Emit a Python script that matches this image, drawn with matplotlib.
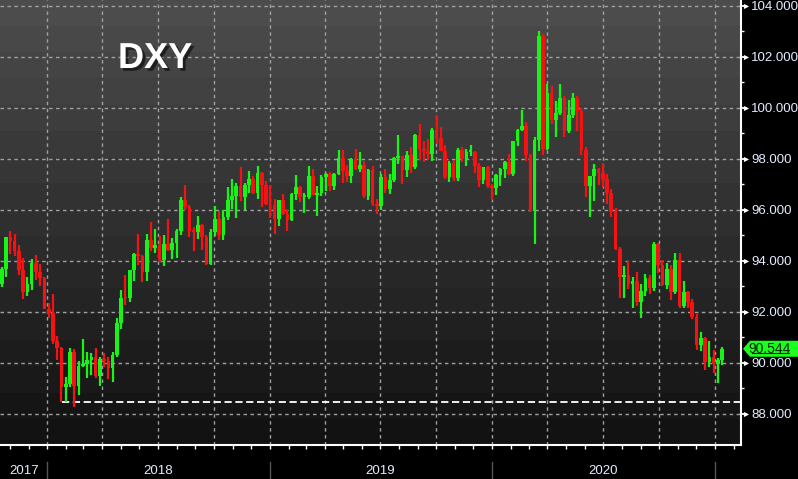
import numpy as np
import pandas as pd
import matplotlib
matplotlib.use("Agg")
import matplotlib.pyplot as plt
import matplotlib.dates as mdates
import matplotlib.transforms as mtransforms
import matplotlib.patheffects as pe
from matplotlib.patches import Polygon

# weekly DXY candles, week ending Friday, 20 Oct 2017 .. 15 Jan 2021
first_open = 93.07

closes = [
    93.69, 94.91, 94.78, 94.39, 93.65, 92.78, 93.08, 93.90, 93.55, 93.30, 92.12,  # 2017
    91.95, 90.85, 90.59, 89.06, 89.17, 90.41, 89.07, 89.86, 89.94, 90.11, 90.24, 89.47, 90.15,  # 2018
    90.06, 89.77, 90.31, 91.55, 92.55, 92.54, 93.63, 94.25, 94.17, 93.56, 94.79, 94.51, 94.60,
    94.03, 94.66, 94.43, 94.68, 95.15, 96.36, 96.11, 95.15, 95.14, 95.38, 94.93, 93.85, 95.13,
    95.62, 95.01, 95.71, 96.36, 96.53, 96.91, 96.48, 96.95, 97.22, 96.65, 97.45, 96.96, 96.21,
    96.18, 95.64, 96.36, 95.82, 95.58, 96.62, 96.90, 96.51, 96.51, 97.31, 96.59, 96.65, 97.28,  # 2019
    97.39, 96.93, 97.40, 98.01, 97.50, 97.33, 97.99, 97.61, 97.75, 96.54, 97.57, 96.23, 96.13,
    97.28, 96.81, 97.17, 98.02, 98.09, 97.54, 98.14, 97.66, 98.92, 98.39, 98.30, 98.20, 99.13,
    98.80, 98.30, 97.28, 97.83, 97.24, 98.35, 98.00, 98.27, 98.27, 97.70, 97.18, 97.66, 96.92,
    96.84, 97.36, 97.61, 97.86, 97.39, 98.68, 99.13, 99.26, 98.13, 95.95, 98.74, 102.82, 98.37,  # 2020
    100.59, 99.51, 99.77, 100.38, 99.08, 99.73, 100.38, 99.88, 98.34, 96.93, 97.31, 97.61, 97.43,
    97.19, 96.65, 95.90, 94.44, 93.35, 93.43, 93.09, 93.20, 92.37, 92.80, 93.33, 92.93, 94.64,
    93.84, 93.05, 93.68, 92.77, 94.04, 92.23, 92.76, 92.39, 91.79, 90.70, 90.98, 90.02, 90.24,
    89.94, 90.10, 90.544,  # 2021
]

highs = [
    93.76, 94.94, 95.15, 95.06, 94.63, 94.10, 93.37, 94.08, 94.22, 93.88, 93.35,
    92.35, 92.68, 91.06, 90.62, 89.43, 90.57, 90.55, 90.08, 90.93, 90.40, 90.36, 90.59, 90.23,
    90.38, 90.24, 90.43, 91.76, 92.83, 93.42, 93.63, 94.30, 95.03, 94.21, 95.04, 95.53, 95.24,
    94.95, 94.99, 95.65, 94.90, 95.23, 96.48, 96.98, 96.20, 95.33, 95.74, 95.43, 94.99, 95.23,
    96.15, 95.93, 95.98, 96.87, 97.20, 97.06, 97.69, 97.03, 97.53, 97.30, 97.71, 97.46, 97.11,
    96.96, 96.40, 96.39, 96.61, 95.98, 96.65, 97.37, 96.94, 96.64, 97.71, 97.59, 96.93, 97.35,
    97.45, 97.49, 97.45, 98.32, 98.33, 97.76, 98.02, 98.37, 98.27, 97.90, 97.60, 97.71, 96.40,
    97.39, 97.59, 97.39, 98.05, 98.93, 98.10, 98.30, 98.45, 98.95, 99.37, 98.70, 98.75, 99.22,
    99.67, 99.23, 98.53, 97.92, 97.95, 98.41, 98.45, 98.37, 98.54, 98.30, 97.83, 97.69, 97.70,
    97.01, 97.41, 97.62, 97.91, 98.19, 98.70, 99.15, 99.91, 99.45, 98.20, 98.85, 102.99, 102.87,
    100.93, 100.86, 100.25, 100.93, 100.47, 100.29, 100.56, 100.46, 99.97, 98.47, 97.33, 97.80, 97.65,
    97.81, 97.40, 96.81, 96.07, 94.55, 93.80, 93.99, 93.36, 93.54, 93.09, 93.47, 93.42, 94.74,
    94.70, 94.03, 93.90, 93.84, 94.30, 94.30, 93.21, 92.80, 92.48, 91.92, 91.20, 91.02, 90.86,
    90.48, 90.18, 90.60,
]

lows = [
    92.98, 93.37, 94.26, 94.18, 93.44, 92.50, 92.63, 92.86, 93.23, 92.99, 92.10,
    91.75, 90.75, 90.11, 88.44, 88.44, 89.05, 88.25, 88.75, 89.83, 89.39, 89.50, 89.38, 89.09,
    89.81, 89.37, 89.23, 90.23, 91.33, 92.25, 92.36, 93.19, 93.84, 93.17, 93.20, 94.36, 94.30,
    93.93, 93.79, 94.38, 94.08, 94.12, 94.99, 95.99, 94.93, 94.38, 94.86, 94.41, 93.81, 93.81,
    94.98, 94.80, 94.79, 95.61, 96.01, 95.68, 96.35, 95.98, 96.65, 96.60, 96.42, 96.09, 96.19,
    95.67, 95.03, 95.36, 95.77, 95.16, 95.55, 96.36, 96.29, 95.87, 96.41, 96.56, 95.74, 96.54,
    96.74, 96.74, 96.75, 97.34, 97.03, 97.07, 97.04, 97.55, 97.49, 96.46, 96.36, 96.16, 95.84,
    95.98, 96.66, 96.60, 97.08, 97.78, 96.99, 97.29, 97.44, 97.60, 97.94, 97.88, 97.96, 97.90,
    98.57, 98.28, 97.22, 97.07, 97.11, 97.11, 97.88, 97.71, 98.12, 97.43, 96.87, 97.02, 96.86,
    96.36, 96.58, 96.94, 97.24, 97.35, 97.33, 98.51, 99.10, 97.91, 95.90, 94.65, 98.30, 98.14,
    98.33, 99.37, 98.84, 99.70, 98.86, 98.99, 99.61, 99.09, 98.15, 96.51, 95.72, 96.34, 96.96,
    96.89, 96.21, 95.72, 94.40, 92.55, 92.52, 92.88, 92.13, 92.24, 91.75, 92.60, 92.71, 92.82,
    93.50, 92.99, 92.88, 92.47, 92.70, 92.13, 92.13, 92.13, 91.71, 90.50, 90.47, 89.72, 89.83,
    89.58, 89.21, 89.90,
]

opens = [first_open] + closes[:-1]

years = ["2017", "2018", "2019", "2020"]
year_label_dates = ["2017-11-23", "2018-07-02", "2019-07-02", "2020-07-02"]
yticks = [88, 90, 92, 94, 96, 98, 100, 102, 104]
support_level = 88.44
last_price = 90.544

# week centre = wednesday
weeks = pd.date_range("2017-10-20", periods=len(closes), freq="W-FRI") - pd.Timedelta(days=2)
x = mdates.date2num(weeks)

green = "#16f516"
red = "#f51212"
txt_col = "#e4ecff"
grid_col = "#a0a0a0"

fig = plt.figure(figsize=(7.98, 4.79), dpi=100, facecolor="black")
ax = fig.add_axes([0, 34 / 479, 741 / 798, 445 / 479])

# banded grey background
bands = np.linspace(0x4c, 0x12, 17) / 255.0
grad = np.dstack([bands, bands, bands]).reshape(17, 1, 3)
ax.imshow(grad, extent=[0, 1, 0, 1], transform=ax.transAxes, aspect="auto",
          interpolation="nearest", zorder=0)

xmin = mdates.date2num(pd.Timestamp("2017-10-15"))
xmax = mdates.date2num(pd.Timestamp("2021-02-13"))

# grid
for v in yticks:
    ax.axhline(v, color=grid_col, lw=1.0, ls=(0, (2.5, 2.5)), zorder=1)
for q in pd.date_range("2018-01-01", "2021-01-01", freq="QS"):
    ax.axvline(mdates.date2num(q), color=grid_col, lw=1.0, ls=(0, (2.5, 2.5)), zorder=1)

# candles
o = np.array(opens)
c = np.array(closes)
h = np.array(highs)
l = np.array(lows)
cols = [green if cc >= oo else red for oo, cc in zip(o, c)]
ax.vlines(x, l, h, colors=cols, lw=1.6, zorder=3)
ax.bar(x, np.maximum(np.abs(c - o), 0.05), bottom=np.minimum(o, c), width=6.0,
       color=cols, linewidth=0, zorder=3)

# support line from the Jan 2018 low
ax.hlines(support_level, mdates.date2num(pd.Timestamp("2018-01-25")), xmax,
          colors="white", lw=1.3, ls=(0, (4, 2)), zorder=2)

ax.set_xlim(xmin, xmax)
ax.set_ylim(86.77, 104.22)

for s in ["left", "top"]:
    ax.spines[s].set_visible(False)
for s in ["right", "bottom"]:
    ax.spines[s].set_color("white")
    ax.spines[s].set_linewidth(1.5)

ax.yaxis.tick_right()
ax.set_yticks(yticks)
ax.set_yticklabels(["%.3f" % v for v in yticks], family="Liberation Sans")
ax.set_yticks([89, 91, 93, 95, 97, 99, 101, 103], minor=True)
ax.tick_params(axis="y", which="major", colors="white", labelcolor=txt_col,
               labelsize=9.5, length=4.5, width=1.3, pad=3)
ax.tick_params(axis="y", which="minor", colors="white", length=2.5, width=1)

ax.xaxis.set_major_locator(mdates.MonthLocator())
ax.xaxis.set_major_formatter(plt.NullFormatter())
ax.tick_params(axis="x", which="major", colors="white", length=3, width=1)

# little arrow heads at the price ticks
ytr = mtransforms.blended_transform_factory(ax.transAxes, ax.transData)
ax.scatter([1 + 5 / 741] * len(yticks), yticks, marker=">", s=14, color="white",
           transform=ytr, clip_on=False, zorder=5, linewidths=0)

# year labels and separators
xtr = mtransforms.blended_transform_factory(ax.transData, ax.transAxes)
for yr, d in zip(years, year_label_dates):
    ax.text(mdates.date2num(pd.Timestamp(d)), -0.058, yr, transform=xtr, ha="center",
            va="center", color=txt_col, fontsize=9.5, family="Liberation Sans")
for yr in ["2018", "2019", "2020", "2021"]:
    xd = mdates.date2num(pd.Timestamp(yr + "-01-01"))
    ax.plot([xd, xd], [-0.038, -0.08], transform=xtr, color="#555555", lw=1, clip_on=False)

# last price flag
ftr = mtransforms.blended_transform_factory(fig.transFigure, ax.transData)
hh = 8 / 25.5
flag = Polygon([(743 / 798, last_price), (750 / 798, last_price + hh), (1.0, last_price + hh),
                (1.0, last_price - hh), (750 / 798, last_price - hh)],
               closed=True, transform=ftr, facecolor="#1cff1c", edgecolor="none",
               clip_on=False, zorder=6)
ax.add_patch(flag)
ax.text(770 / 798, last_price, "%.3f" % last_price, transform=ftr, ha="center",
        va="center", fontsize=10, color="#062006", family="Liberation Sans",
        clip_on=False, zorder=7)
ax.plot([752 / 798, 789 / 798], [last_price - 4.6 / 25.5] * 2, transform=ftr,
        color="#062006", lw=0.8, clip_on=False, zorder=7)

# title
ax.text(118 / 741, (445 - 68) / 445, "DXY", transform=ax.transAxes, fontsize=26,
        fontweight="bold", family="Liberation Sans", color="white", va="baseline",
        zorder=8,
        path_effects=[pe.withSimplePatchShadow(offset=(2, -2), shadow_rgbFace="black",
                                               alpha=0.55)])

fig.savefig("out.png", dpi=100, facecolor="black")
